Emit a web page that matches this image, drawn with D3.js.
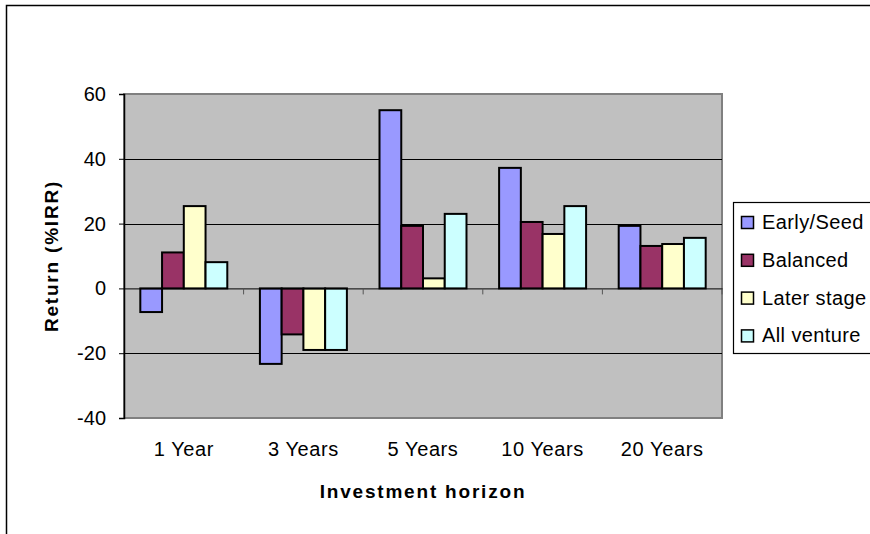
<!DOCTYPE html>
<html>
<head>
<meta charset="utf-8">
<title>Return by investment horizon</title>
<style type="text/css">
	body { margin: 0; background: white; }
	text { font-family: "Liberation Sans", Arial, sans-serif; fill: black; }
	.tick-label { font-size: 20px; }
	.axis-title { font-size: 19px; font-weight: bold; letter-spacing: 1.8px; }
	.legend-txt { font-size: 20px; }
</style>
</head>
<body>
<svg id="chart"></svg>
<script src="https://cdnjs.cloudflare.com/ajax/libs/d3/7.8.5/d3.min.js"></script>
<script>
	var horizons = ["1 Year", "3 Years", "5 Years", "10 Years", "20 Years"];
	var series = ["Early/Seed", "Balanced", "Later stage", "All venture"];
	var earlySeed = [-7.3, -23.3, 55, 37.2, 19.3];
	var balanced = [11.1, -14.2, 19.3, 20.5, 13.1];
	var laterStage = [25.4, -19, 3.1, 16.8, 13.7];
	var allVenture = [8.1, -19, 23, 25.4, 15.6];
	var yTicks = [-40, -20, 0, 20, 40, 60];
	var colors = ["#9999ff", "#993366", "#ffffcc", "#ccffff"];

	var values = [earlySeed, balanced, laterStage, allVenture];

	var W = 870, H = 534;
	var plot = {left: 124, right: 722, top: 94, bottom: 418};

	var svg = d3.select("#chart").attr("width", W).attr("height", H);

	// outer chart frame
	svg.append("rect")
		.attr("x", 6.5).attr("y", 5.5)
		.attr("width", W + 20).attr("height", H + 20)
		.attr("fill", "white").attr("stroke", "black").attr("stroke-width", 1.5);

	var y = d3.scaleLinear().domain([-40, 60]).range([plot.bottom, plot.top]);
	var x0 = d3.scaleBand().domain(horizons).range([plot.left, plot.right]);
	var x1 = d3.scaleBand().domain(series).range([0, x0.bandwidth()]).paddingOuter(0.75);

	// plot area
	svg.append("rect")
		.attr("x", plot.left).attr("y", plot.top)
		.attr("width", plot.right - plot.left).attr("height", plot.bottom - plot.top)
		.attr("fill", "#c0c0c0").attr("stroke", "#808080").attr("stroke-width", 2);

	// gridlines
	svg.selectAll(".grid")
		.data(yTicks.filter(d => d !== 60 && d !== -40 && d !== 0))
		.enter().append("line")
		.attr("class", "grid")
		.attr("x1", plot.left).attr("x2", plot.right)
		.attr("y1", d => Math.round(y(d)) + 0.5).attr("y2", d => Math.round(y(d)) + 0.5)
		.attr("stroke", "#000").attr("stroke-width", 1);

	// bars
	var rows = horizons.map((h, i) => series.map((s, j) => ({h: h, s: s, v: values[j][i], c: colors[j]})));
	svg.selectAll(".grp")
		.data(rows)
		.enter().append("g")
		.attr("class", "grp")
		.attr("transform", (d, i) => `translate(${x0(horizons[i])},0)`)
		.selectAll("rect")
		.data(d => d)
		.enter().append("rect")
		.attr("x", d => x1(d.s))
		.attr("y", d => y(Math.max(0, d.v)))
		.attr("width", x1.bandwidth())
		.attr("height", d => Math.abs(y(d.v) - y(0)))
		.attr("fill", d => d.c)
		.attr("stroke", "black").attr("stroke-width", 2);

	// zero axis with category ticks
	var xAxis = d3.axisBottom(x0).tickSize(0).tickFormat("");
	var gx = svg.append("g").attr("transform", `translate(0,${y(0)})`).call(xAxis);
	gx.select(".domain").attr("stroke", "#000").attr("stroke-width", 1);
	gx.selectAll(".cat-tick")
		.data(horizons.slice(1).concat(["end"]))
		.enter().append("line")
		.attr("class", "cat-tick")
		.attr("x1", (d, i) => plot.left + (i + 1) * x0.step())
		.attr("x2", (d, i) => plot.left + (i + 1) * x0.step())
		.attr("y1", 0).attr("y2", 6)
		.attr("stroke", "#555").attr("stroke-width", 1);

	// y axis
	var gy = svg.append("g").attr("transform", `translate(${plot.left},0)`)
		.call(d3.axisLeft(y).tickValues(yTicks).tickSize(5).tickPadding(13).tickFormat(d => String(d)));
	gy.select(".domain").attr("stroke", "#000").attr("stroke-width", 1.5);
	gy.selectAll(".tick line").attr("stroke", "#000");
	gy.selectAll(".tick text").attr("class", "tick-label");
	gy.attr("font-size", null).attr("font-family", null);

	// category labels
	svg.selectAll(".cat-label")
		.data(horizons)
		.enter().append("text")
		.attr("class", "tick-label")
		.attr("x", d => x0(d) + x0.bandwidth() / 2)
		.attr("y", 456)
		.attr("text-anchor", "middle")
		.style("letter-spacing", "0.6px")
		.text(d => d);

	// axis titles
	svg.append("text")
		.attr("class", "axis-title")
		.attr("x", (plot.left + plot.right) / 2).attr("y", 498)
		.attr("text-anchor", "middle")
		.text("Investment horizon");

	svg.append("text")
		.attr("class", "axis-title")
		.attr("transform", "translate(58,256) rotate(-90)")
		.attr("text-anchor", "middle")
		.text("Return (%IRR)");

	// legend
	var legend = svg.append("g").attr("transform", "translate(733,202)");
	legend.append("rect")
		.attr("x", 0.5).attr("y", 0.5).attr("width", 200).attr("height", 151)
		.attr("fill", "white").attr("stroke", "black").attr("stroke-width", 1.2);
	var item = legend.selectAll(".item")
		.data(series)
		.enter().append("g")
		.attr("class", "item")
		.attr("transform", (d, i) => `translate(0,${20 + i * 37.8})`);
	item.append("rect")
		.attr("x", 8.5).attr("y", -5.5).attr("width", 12).attr("height", 12)
		.attr("fill", (d, i) => colors[i]).attr("stroke", "black").attr("stroke-width", 1.5);
	item.append("text")
		.attr("class", "legend-txt")
		.attr("x", 29).attr("y", 7)
		.style("letter-spacing", "0.4px")
		.text(d => d);
</script>
</body>
</html>
